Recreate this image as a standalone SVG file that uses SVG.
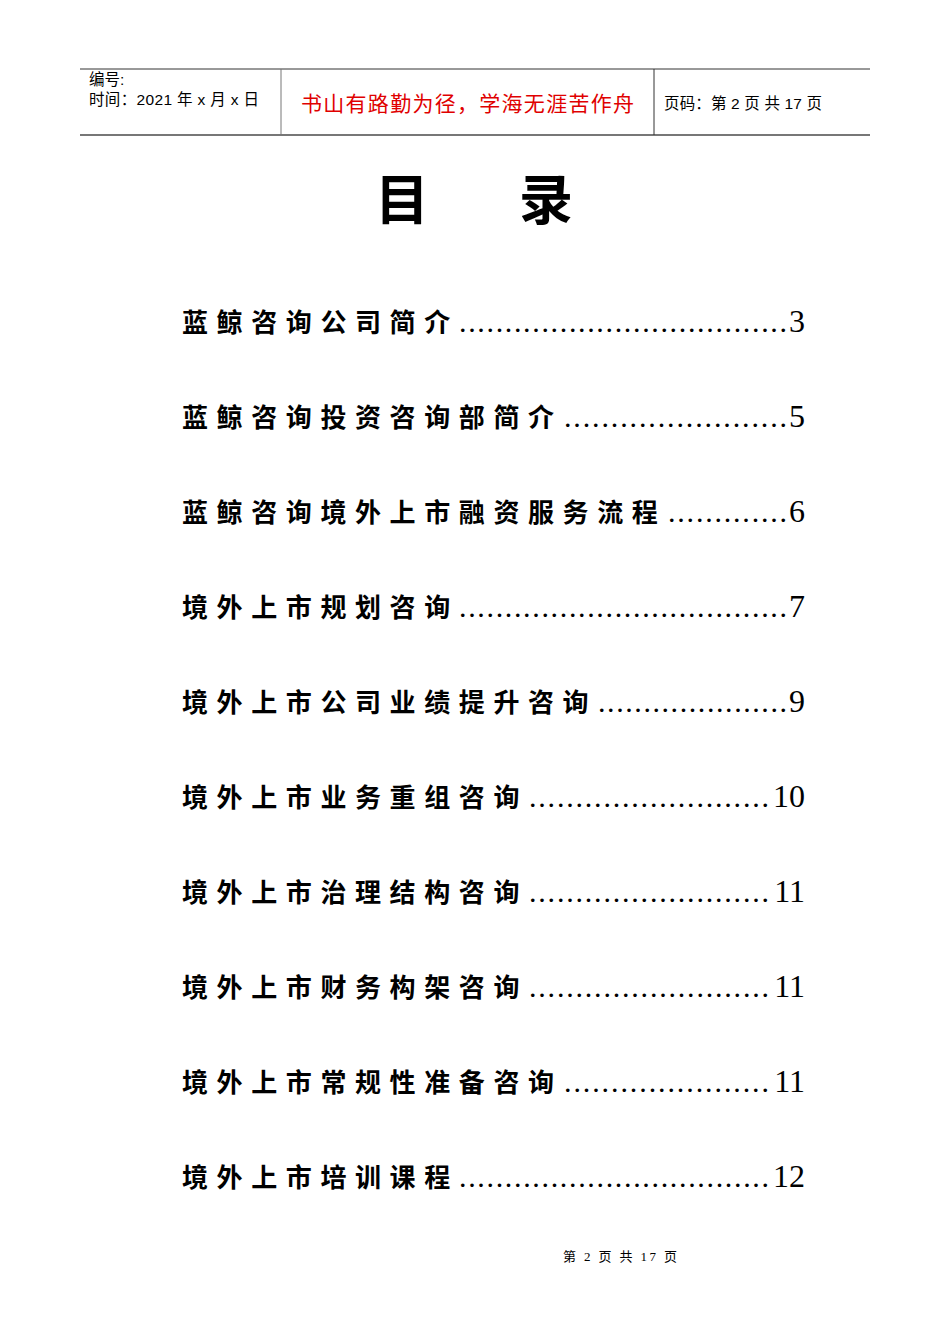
<svg xmlns="http://www.w3.org/2000/svg" width="950" height="1344" viewBox="0 0 950 1344">
<style>
.h{font-family:"Liberation Sans","Noto Sans CJK SC",sans-serif;font-size:15.5px;fill:#000}
.e{font-family:"Noto Sans CJK SC",sans-serif;font-size:26px;letter-spacing:8.6px;fill:#000;font-weight:bold}
.d{font-family:"Liberation Serif",serif;font-size:30px;fill:#000}
.n{font-family:"Liberation Serif",serif;font-size:32px;fill:#000;text-anchor:end}
</style>
<rect width="950" height="1344" fill="#fff"/>
<g id="header">
<line x1="80" y1="69" x2="870" y2="69" stroke="#333" stroke-width="1"/>
<line x1="80" y1="135" x2="870" y2="135" stroke="#777" stroke-width="2"/>
<line x1="281" y1="69" x2="281" y2="135" stroke="#777" stroke-width="1"/>
<line x1="654" y1="69" x2="654" y2="135" stroke="#333" stroke-width="1"/>
<text class="h" x="89" y="85">编号:</text>
<text class="h" x="89" y="105" textLength="170">时间：2021 年 x 月 x 日</text>
<text x="301" y="111" textLength="333" style="font-family:'Noto Sans CJK SC',sans-serif;font-size:21px;fill:#e00000">书山有路勤为径，学海无涯苦作舟</text>
<text class="h" x="664" y="109" textLength="158">页码：第 2 页  共 17 页</text>
</g>
<text x="402" y="220" text-anchor="middle" style="font-family:'Noto Sans CJK SC',sans-serif;font-size:54px;font-weight:bold">目</text>
<text x="546" y="220" text-anchor="middle" style="font-family:'Noto Sans CJK SC',sans-serif;font-size:54px;font-weight:bold">录</text>
<g id="toc">
<text class="e" x="182" y="332">蓝鲸咨询公司简介</text><text class="d" x="459" y="332" textLength="328" lengthAdjust="spacing">....................................</text><text class="n" x="805" y="332">3</text>
<text class="e" x="182" y="427">蓝鲸咨询投资咨询部简介</text><text class="d" x="564" y="427" textLength="223" lengthAdjust="spacing">........................</text><text class="n" x="805" y="427">5</text>
<text class="e" x="182" y="522">蓝鲸咨询境外上市融资服务流程</text><text class="d" x="668" y="522" textLength="119" lengthAdjust="spacing">.............</text><text class="n" x="805" y="522">6</text>
<text class="e" x="182" y="617">境外上市规划咨询</text><text class="d" x="459" y="617" textLength="328" lengthAdjust="spacing">....................................</text><text class="n" x="805" y="617">7</text>
<text class="e" x="182" y="712">境外上市公司业绩提升咨询</text><text class="d" x="598" y="712" textLength="189" lengthAdjust="spacing">.....................</text><text class="n" x="805" y="712">9</text>
<text class="e" x="182" y="807">境外上市业务重组咨询</text><text class="d" x="529" y="807" textLength="240" lengthAdjust="spacing">..........................</text><text class="n" x="805" y="807">10</text>
<text class="e" x="182" y="902">境外上市治理结构咨询</text><text class="d" x="529" y="902" textLength="240" lengthAdjust="spacing">..........................</text><text class="n" x="805" y="902">11</text>
<text class="e" x="182" y="997">境外上市财务构架咨询</text><text class="d" x="529" y="997" textLength="240" lengthAdjust="spacing">..........................</text><text class="n" x="805" y="997">11</text>
<text class="e" x="182" y="1092">境外上市常规性准备咨询</text><text class="d" x="564" y="1092" textLength="205" lengthAdjust="spacing">......................</text><text class="n" x="805" y="1092">11</text>
<text class="e" x="182" y="1187">境外上市培训课程</text><text class="d" x="459" y="1187" textLength="310" lengthAdjust="spacing">..................................</text><text class="n" x="805" y="1187">12</text>
</g>
<text x="563" y="1261" textLength="114" style="font-family:'Liberation Serif','Noto Sans CJK SC',serif;font-size:13px">第 2 页 共 17 页</text>
</svg>
